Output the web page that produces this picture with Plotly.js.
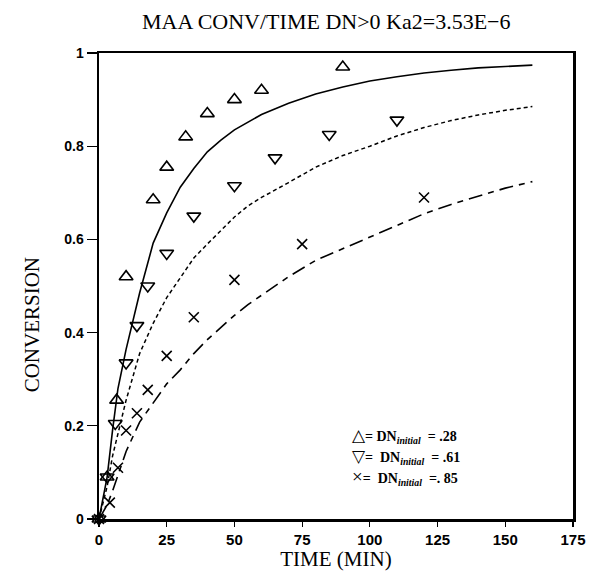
<!DOCTYPE html>
<html>
<head>
<meta charset="utf-8">
<script src="https://cdn.plot.ly/plotly-3.0.1.min.js"></script>
<style>html,body{margin:0;padding:0;background:#fff;}#chart{width:590px;height:575px;}</style>
</head>
<body>
<div id="chart"></div>
<script>
// Measured data points
const upTime = [0, 3, 6.5, 10, 20, 25, 32, 40, 50, 60, 90];
const upConv = [0, 0.09, 0.255, 0.52, 0.685, 0.755, 0.82, 0.87, 0.90, 0.92, 0.97];

const downTime = [0, 3, 6, 10, 14, 18, 25, 35, 50, 65, 85, 110];
const downConv = [0, 0.09, 0.205, 0.335, 0.415, 0.50, 0.57, 0.65, 0.715, 0.775, 0.825, 0.856];

const xTime = [0, 4, 7, 10, 14, 18, 25, 35, 50, 75, 120];
const xConv = [0, 0.035, 0.11, 0.19, 0.227, 0.277, 0.35, 0.433, 0.513, 0.59, 0.69];

// Model curves
const curveTime = [0, 3, 5, 7, 10, 15, 20, 25, 30, 35, 40, 45, 50, 55, 60, 70, 80, 90, 100, 110, 120, 130, 140, 150, 160];
const curveLow  = [0, 0.09, 0.19, 0.28, 0.364, 0.485, 0.592, 0.657, 0.712, 0.752, 0.788, 0.813, 0.835, 0.852, 0.868, 0.892, 0.912, 0.927, 0.94, 0.949, 0.957, 0.963, 0.968, 0.971, 0.974];
const curveMid  = [0, 0.07, 0.135, 0.185, 0.255, 0.355, 0.42, 0.475, 0.518, 0.56, 0.59, 0.62, 0.648, 0.672, 0.69, 0.722, 0.755, 0.78, 0.80, 0.822, 0.84, 0.855, 0.867, 0.877, 0.885];
const curveHigh = [0, 0.03, 0.06, 0.095, 0.145, 0.208, 0.25, 0.29, 0.32, 0.355, 0.385, 0.412, 0.437, 0.46, 0.48, 0.52, 0.555, 0.58, 0.605, 0.63, 0.655, 0.675, 0.693, 0.71, 0.724];

const xTicks = [0, 25, 50, 75, 100, 125, 150, 175];
const yTicks = [0, 0.2, 0.4, 0.6, 0.8, 1];
const yTickText = ['0', '0.2', '0.4', '0.6', '0.8', '1'];

const legendSymbols = ['△', '▽', '×'];
const legendLabels = [
  '= DN<sub><i>initial</i></sub>  = .28',
  '=  DN<sub><i>initial</i></sub>  = .61',
  '=  DN<sub><i>initial</i></sub>  =. 85'
];
const legendSymbolSizes = [17, 17, 19];

const serif = 'Liberation Serif, Times New Roman, serif';
const sans = 'Liberation Sans, Arial, sans-serif';

const traces = [
  {x: curveTime, y: curveLow, mode: 'lines', line: {color: '#000', width: 1.6}, hoverinfo: 'skip'},
  {x: curveTime, y: curveMid, mode: 'lines', line: {color: '#000', width: 1.5, dash: '4px,3px'}, hoverinfo: 'skip'},
  {x: curveTime, y: curveHigh, mode: 'lines', line: {color: '#000', width: 1.6, dash: '14px,6px,6px,6px'}, hoverinfo: 'skip'},
  {x: upTime, y: upConv, mode: 'markers', cliponaxis: false,
   marker: {symbol: 'triangle-up-open', size: 12, color: '#000', line: {width: 1.6, color: '#000'}}},
  {x: downTime, y: downConv, mode: 'markers', cliponaxis: false,
   marker: {symbol: 'triangle-down-open', size: 12, color: '#000', line: {width: 1.6, color: '#000'}}},
  {x: xTime, y: xConv, mode: 'markers', cliponaxis: false,
   marker: {symbol: 'x-thin-open', size: 10, color: '#000', line: {width: 1.6, color: '#000'}}}
];

const annotations = legendLabels.map((t, i) => ({
  text: '<span style="font-size:' + legendSymbolSizes[i] + 'px;font-weight:normal">' + legendSymbols[i] + '</span>' + t,
  xref: 'paper', yref: 'paper', x: 0.53, y: 0.178 - i * 0.044,
  xanchor: 'left', yanchor: 'middle', showarrow: false,
  font: {family: serif, size: 14, color: '#000', weight: 'bold'}
}));
annotations.push({
  text: 'CONVERSION', xref: 'paper', yref: 'paper', x: -0.141, y: 0.416,
  xanchor: 'center', yanchor: 'middle', textangle: -90, showarrow: false,
  font: {family: serif, size: 21, color: '#000'}
});

const layout = {
  width: 590, height: 575,
  margin: {l: 99, r: 17, t: 53, b: 56},
  paper_bgcolor: '#fff', plot_bgcolor: '#fff',
  showlegend: false,
  title: {text: 'MAA CONV/TIME DN>0 Ka2=3.53E−6', x: 0.553, xanchor: 'center', y: 0.963, yanchor: 'middle',
          font: {family: serif, size: 22, color: '#000'}},
  xaxis: {
    range: [0, 175], tickvals: xTicks, ticks: 'outside', ticklen: 5, tickwidth: 1.2, tickcolor: '#000',
    showgrid: false, zeroline: false, showline: true, linecolor: '#000', linewidth: 2.5, mirror: true,
    tickfont: {family: sans, size: 15, color: '#000', weight: 'bold'},
    title: {text: 'TIME (MIN)', font: {family: serif, size: 21, color: '#000'}, standoff: 2}
  },
  yaxis: {
    range: [0, 1], tickvals: yTicks, ticktext: yTickText, ticks: 'outside', ticklen: 10, tickwidth: 1.2, tickcolor: '#000',
    showgrid: false, zeroline: false, showline: true, linecolor: '#000', linewidth: 2.5, mirror: true,
    tickfont: {family: sans, size: 14, color: '#000', weight: 'bold'}
  },
  annotations: annotations
};

Plotly.newPlot('chart', traces, layout, {staticPlot: true, displayModeBar: false});
</script>
</body>
</html>
